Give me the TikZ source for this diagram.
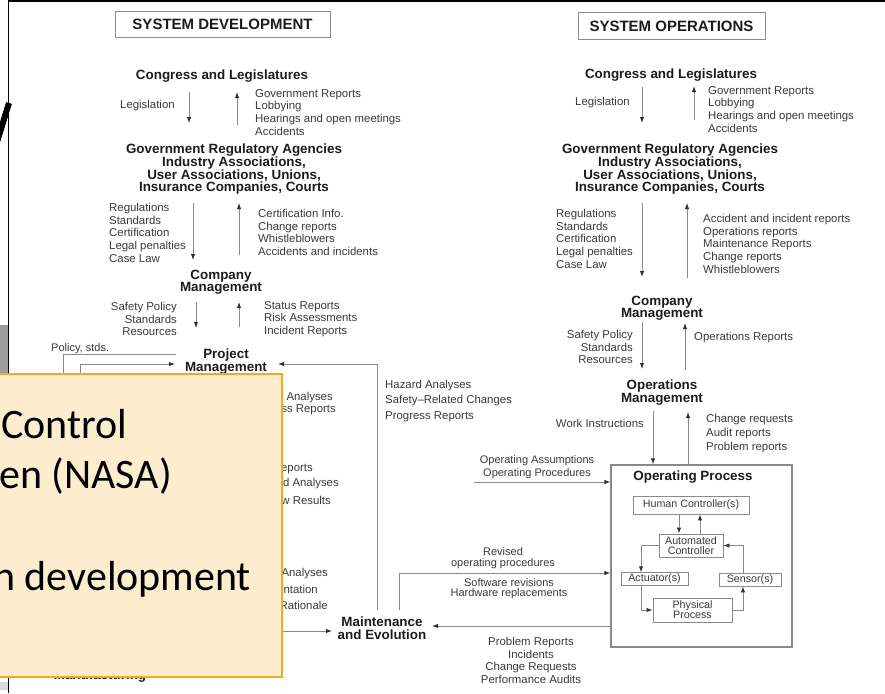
\documentclass[tikz,border=0pt]{standalone}
\usepackage{fontspec}
\setmainfont{Liberation Sans}
\newfontfamily\slidefont{Carlito}
\usetikzlibrary{arrows.meta}
\definecolor{ink}{HTML}{1C1C1C}
\definecolor{labelgray}{HTML}{3A3A3A}
\definecolor{wire}{HTML}{8A8A8A}
\definecolor{tipink}{HTML}{303030}
\definecolor{notefill}{HTML}{FCEDCF}
\definecolor{noteedge}{HTML}{F6A91E}
\definecolor{panelgray}{HTML}{9C9C9C}

\begin{document}
\begin{tikzpicture}[x=1pt,y=-1pt,
  lbl/.style={inner sep=0pt, text=labelgray, align=left, font=\fontsize{11.4}{12.7}\selectfont},
  ttl/.style={inner sep=0pt, text=ink, align=center, font=\bfseries\fontsize{13.4}{12.8}\selectfont},
  hdr/.style={draw=wire, line width=1pt, inner sep=0pt, text=ink, minimum height=26pt, font=\bfseries\fontsize{15}{16}\selectfont},
  wirel/.style={draw=wire, line width=0.9pt},
  arr/.style={wirel, -{Latex[length=6pt,width=4.4pt,color=tipink]}},
  unit/.style={draw=wire, line width=0.9pt, inner sep=0pt, text=labelgray, align=center, font=\fontsize{10.7}{10}\selectfont},
  notetext/.style={inner sep=0pt, anchor=base west, text=black, font=\slidefont\fontsize{42}{51}\selectfont}
]
\useasboundingbox (0,0) rectangle (885,693);
\clip (0,0) rectangle (885,693);
\fill[white] (0,0) rectangle (885,693);

% ---------------- system development ----------------
\node[hdr, minimum width=215pt] (devhdr) at (222.5,24.5) {SYSTEM DEVELOPMENT};

\node[ttl] (dcong) at (222,76.5) {Congress and Legislatures};
\node[lbl, anchor=west] (dleg) at (120,106) {Legislation};
\coordinate (d1s) at (189,92);  \coordinate (d1e) at (189,123);
\coordinate (u1s) at (237,125); \coordinate (u1e) at (237,92);
\draw[arr] (d1s) -- (d1e);
\draw[arr] (u1s) -- (u1e);
\node[lbl, anchor=north west] (dfb1) at (255,89) {Government Reports\\Lobbying\\Hearings and open meetings\\Accidents};

\node[ttl, anchor=north] (dreg) at (234,143.5) {Government Regulatory Agencies\\Industry Associations,\\User Associations, Unions,\\Insurance Companies, Courts};

\node[lbl, anchor=north west] (dctl2) at (109,203) {Regulations\\Standards\\Certification\\Legal penalties\\Case Law};
\coordinate (d2s) at (193,203); \coordinate (d2e) at (193,260);
\coordinate (u2s) at (239,255); \coordinate (u2e) at (239,203);
\draw[arr] (d2s) -- (d2e);
\draw[arr] (u2s) -- (u2e);
\node[lbl, anchor=north west] (dfb2) at (258,209) {Certification Info.\\Change reports\\Whistleblowers\\Accidents and incidents};

\node[ttl, anchor=north] (dcomp) at (221,269.5) {Company\\Management};
\node[lbl, anchor=north east, align=right] (dctl3) at (177,302) {Safety Policy\\Standards\\Resources};
\coordinate (d3s) at (196,302); \coordinate (d3e) at (196,328);
\coordinate (u3s) at (239,327); \coordinate (u3e) at (239,302);
\draw[arr] (d3s) -- (d3e);
\draw[arr] (u3s) -- (u3e);
\node[lbl, anchor=north west] (dfb3) at (264,301) {Status Reports\\Risk Assessments\\Incident Reports};

\node[ttl, anchor=north] (dproj) at (226,348.5) {Project\\Management};
\node[lbl, anchor=west, font=\fontsize{11}{12}\selectfont] (dpol) at (51,349) {Policy, stds.};
\coordinate (pol0) at (176,354); \coordinate (pol1) at (63,420);
\draw[wirel] (pol0) -| (pol1);
\coordinate (fb0) at (80,420); \coordinate (fbt) at (175,364);
\draw[arr] (fb0) |- (fbt);
\coordinate (hz0) at (377,610); \coordinate (hzt) at (278,364);
\draw[arr] (hz0) |- (hzt);

\node[lbl, anchor=north west, font=\fontsize{11.4}{15.5}\selectfont] (dhaz) at (385,380) {Hazard Analyses\\Safety–Related Changes\\Progress Reports};

% labels running in from the left
\node[lbl, anchor=east] (fa1) at (333,398) {d Analyses};
\node[lbl, anchor=east] (fa2) at (336,410) {ss Reports};
\node[lbl, anchor=east] (fb1) at (313,469) {eports};
\node[lbl, anchor=east] (fb2) at (339,484) {d Analyses};
\node[lbl, anchor=east] (fb3) at (331,500) {w Results};
\node[lbl, anchor=east] (fc1) at (328,574) {Analyses};
\node[lbl, anchor=east] (fc2) at (318,589) {ntation};
\node[lbl, anchor=east] (fc3) at (328,605) {Rationale};

\node[ttl, inner xsep=5.5pt] (maint) at (382,628.5) {Maintenance\\and Evolution};
\coordinate (mfeed) at (270,631);
\draw[arr] (mfeed) -- (mfeed -| maint.west);

\node[ttl] (dmanu) at (100,676.5) {Manufacturing};

% ---------------- system operations ----------------
\node[hdr, minimum width=187pt, minimum height=27pt] (opshdr) at (671.5,26.5) {SYSTEM OPERATIONS};

\node[ttl] (ocong) at (671,75.5) {Congress and Legislatures};
\node[lbl, anchor=west] (oleg) at (575,103) {Legislation};
\coordinate (o1s) at (642,87);  \coordinate (o1e) at (642,123);
\coordinate (v1s) at (694,120); \coordinate (v1e) at (694,86);
\draw[arr] (o1s) -- (o1e);
\draw[arr] (v1s) -- (v1e);
\node[lbl, anchor=north west] (ofb1) at (708,86) {Government Reports\\Lobbying\\Hearings and open meetings\\Accidents};

\node[ttl, anchor=north] (oreg) at (670,143.5) {Government Regulatory Agencies\\Industry Associations,\\User Associations, Unions,\\Insurance Companies, Courts};

\node[lbl, anchor=north west] (octl2) at (556,209) {Regulations\\Standards\\Certification\\Legal penalties\\Case Law};
\coordinate (o2s) at (642,203); \coordinate (o2e) at (642,277);
\coordinate (v2s) at (687,278); \coordinate (v2e) at (687,203);
\draw[arr] (o2s) -- (o2e);
\draw[arr] (v2s) -- (v2e);
\node[lbl, anchor=north west] (ofb2) at (703,214) {Accident and incident reports\\Operations reports\\Maintenance Reports\\Change reports\\Whistleblowers};

\node[ttl, anchor=north] (ocomp) at (662,295.5) {Company\\Management};
\node[lbl, anchor=north east, align=right] (octl3) at (633,330) {Safety Policy\\Standards\\Resources};
\coordinate (o3s) at (642,322); \coordinate (o3e) at (642,369);
\coordinate (v3s) at (685,370); \coordinate (v3e) at (685,323);
\draw[arr] (o3s) -- (o3e);
\draw[arr] (v3s) -- (v3e);
\node[lbl, anchor=west] (ofb3) at (694,338) {Operations Reports};

\node[ttl, anchor=north] (oopm) at (662,379.5) {Operations\\Management};
\node[lbl, anchor=east] (owork) at (644,423) {Work Instructions};
\node[lbl, anchor=north west, font=\fontsize{11.4}{13.8}\selectfont] (ofb4) at (706,414) {Change requests\\Audit reports\\Problem reports};

% operating process
\node[draw=wire, line width=1.2pt, minimum width=181pt, minimum height=182pt, inner sep=0pt] (opbox) at (701.5,556) {};
\node[ttl] (optitle) at (693,477.3) {Operating Process};

\coordinate (o4s) at (653,411);
\draw[arr] (o4s) -- (o4s |- opbox.north);
\coordinate (v4e) at (688,412);
\draw[arr] (v4e |- opbox.north) -- (v4e);

\node[lbl, anchor=north, align=center, font=\fontsize{11}{13}\selectfont] (oassm) at (537,455) {Operating Assumptions\\Operating Procedures};
\coordinate (oa0) at (474,482);
\draw[arr] (oa0) -- (oa0 -| opbox.west);

\node[unit, minimum width=116pt, minimum height=18pt] (human) at (691,505) {Human Controller(s)};
\node[unit, minimum width=64pt, minimum height=23pt] (auto) at (691,545.5) {Automated\\Controller};
\node[unit, minimum width=67pt, minimum height=12.5pt] (act) at (654.5,579) {Actuator(s)};
\node[unit, minimum width=62pt, minimum height=13pt] (sens) at (750,579.5) {Sensor(s)};
\node[unit, minimum width=79pt, minimum height=24pt] (phys) at (692.5,610) {Physical\\Process};

\draw[arr] ([xshift=-12pt]human.south) -- ([xshift=-12pt]auto.north);
\draw[arr] ([xshift=9pt]auto.north) -- ([xshift=9pt]human.south);
\draw[arr] (auto.west) -| ([xshift=-13.5pt]act.north);
\draw[arr] ([xshift=-13.5pt]act.south) |- (phys.west);
\draw[arr] (phys.east) -| ([xshift=-7pt]sens.south);
\draw[arr] ([xshift=-7pt]sens.north) |- (auto.east);

% links with maintenance and evolution
\node[lbl, anchor=north, align=center, font=\fontsize{11}{11}\selectfont] (orev) at (503,547) {Revised\\operating procedures};
\node[lbl, anchor=north, align=center, font=\fontsize{11}{10.5}\selectfont] (osw) at (509,578) {Software revisions\\Hardware replacements};
\coordinate (rv0) at (399,610); \coordinate (rvlev) at (0,573);
\draw[arr] (rv0) |- (opbox.west |- rvlev);
\coordinate (prlev) at (0,626);
\draw[arr] (opbox.west |- prlev) -- (maint.east |- prlev);
\node[lbl, anchor=north, align=center] (oprob) at (531,637) {Problem Reports\\Incidents\\Change Requests\\Performance Audits};

% ---------------- slide frame and note ----------------
\fill[panelgray] (0,325) rectangle (8,380);
\fill[black!15] (0,682) rectangle (8,690);
\draw[black, line width=1.8pt] (8.5,0) -- (8.5,693);
\draw[black, line width=2.2pt] (8,1) -- (885,1);
\draw[black, line width=6pt] (-3,142) -- (9,103);

\node[draw=noteedge, fill=notefill, line width=2.5pt, minimum width=302pt, minimum height=303pt, inner sep=0pt] (note) at (131,525.5) {};
\node[notetext] (n1) at (1,438) {Control};
\node[notetext] (n2) at (-1,488) {en (NASA)};
\node[notetext] (n3) at (-7,590) {n development};
\end{tikzpicture}
\end{document}
